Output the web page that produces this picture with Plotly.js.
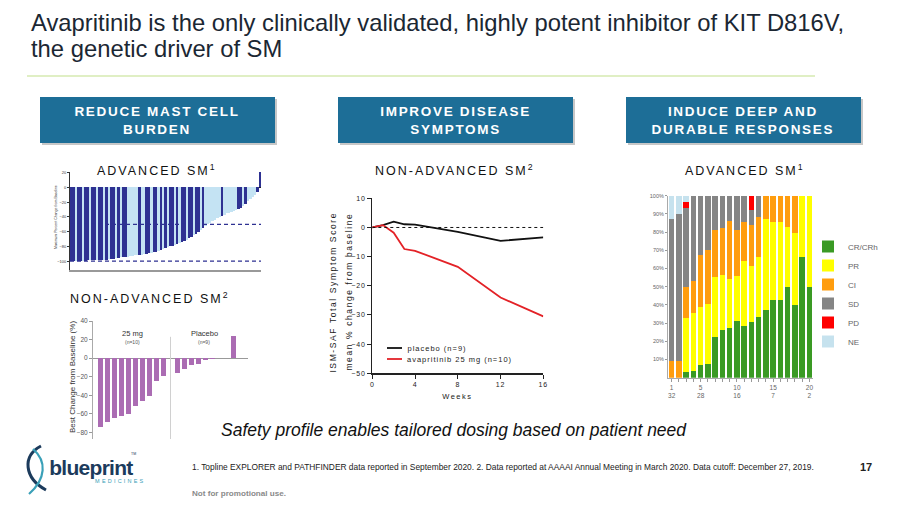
<!DOCTYPE html>
<html><head><meta charset="utf-8">
<script src="https://cdn.plot.ly/plotly-3.0.1.min.js"></script>
<style>
body{margin:0;background:#fff}
#chart{width:900px;height:506px}
.x3tick text,.y3tick text{letter-spacing:0.8px}
</style>
</head><body>
<div id="chart"></div>
<script>
// ---------------- DATA ----------------
// Advanced SM waterfall (max % change from baseline, sorted)
const advChange = [
 -100,-100,-100,-100,-100,-100,-100,-99,-99,-99,
 -99,-99,-98,-98,-98,-98,-97,-97,-97,-96,
 -96,-95,-95,-94,-94,-93,-93,-92,-92,-91,
 -91,-90,-90,-89,-89,-88,-87,-86,-85,-83,
 -82,-81,-80,-79,-78,-77,-76,-74,-73,-71,
 -69,-67,-65,-63,-61,-58,-55,-52,-50,-48,
 -46,-44,-42,-40,-39,-37,-35,-34,-33,-32,
 -30,-29,-28,-25,-22,-19,-16,-13,-10,-6,
 22];
// 1 = dark cohort, 0 = light cohort
const advCohort = [
 1,1,0,1,1,0,1,1,0,1,
 1,0,1,1,0,1,0,1,1,0,
 1,0,1,1,0,0,0,0,0,1,
 0,0,1,1,0,1,1,0,1,0,
 1,0,1,1,0,1,0,1,1,0,
 1,1,0,1,1,0,1,0,0,0,
 0,0,0,0,1,0,0,0,0,0,
 0,1,1,0,1,0,0,0,0,1,
 1];
const advRefLines = [-50, -100];

// Non-advanced SM waterfall (best % change from baseline)
const groupLabels = ['25 mg', 'Placebo'];
const groupN = ['(n=10)', '(n=9)'];
const best25mg = [-74,-69,-64,-62,-60,-51,-46,-41,-25,-19];
const bestPlacebo = [-16,-12,-7,-6,-2,-1,0,0,24];

// ISM-SAF TSS mean % change
const weeks = [0,1,2,3,4,8,12,16];
const placeboTSS = [0,0.8,2.0,1.1,1.0,-1.5,-4.6,-3.4];
const avapTSS = [0,0.8,-1.8,-7.4,-8.0,-13.5,-24.0,-30.5];
const lineNames = ['placebo (n=9)', 'avapritinib 25 mg (n=10)'];

// Response over time (% of patients)
const cycles = [1,2,3,4,5,6,7,8,9,10,11,12,13,14,15,16,17,18,19,20];
const cycleTicks = [1,5,10,15,20];
const patientsAtRisk = ['32','28','16','7','2'];
const pctTicks = [10,20,30,40,50,60,70,80,90,100];
const respCR = [0,0,3.3,3.7,7,7.3,22.2,26,27.1,31.1,28.4,30.6,33.2,37.4,42.7,42.7,49.6,39.9,66.5,49.6];
const respPR = [0,0,29.7,32,32,33.4,32.9,30.4,27.1,24.8,35.7,30.8,33.3,50,42.6,42.6,33.4,39.4,33.5,50.4];
const respCI = [9.2,9.2,16.6,17.6,28.4,29.4,26,26,31.9,25.2,21.2,22.5,22,12.6,14.7,14.7,17,20.7,0,0];
const respSD = [77.8,80.5,43.4,46.7,32.6,29.9,18.9,17.6,13.9,18.9,14.7,8.1,11.5,0,0,0,0,0,0,0];
const respPD = [0,0,3.3,0,0,0,0,0,0,0,0,8,0,0,0,0,0,0,0,0];
const respNE = [13,10.3,3.7,0,0,0,0,0,0,0,0,0,0,0,0,0,0,0,0,0];
const respNames = ['CR/CRh','PR','CI','SD','PD','NE'];

// ---------------- HELPERS ----------------
const W = 900, H = 506;
const X = p => p / W;
const Y = p => 1 - p / H;
const F = 'Liberation Sans, Arial, sans-serif';
const dom = (a, b) => [X(a), X(b)];
const domY = (top, bottom) => [Y(bottom), Y(top)];

// ---------------- TRACES ----------------
const traces = [];
traces.push({
  type: 'bar', x: advChange.map((_, i) => i), y: advChange,
  marker: {color: advCohort.map(c => c ? '#2e3192' : '#c4e3f3'), line: {width: 0}},
  width: 1, xaxis: 'x', yaxis: 'y', showlegend: false
});
const purpleX = best25mg.map((_, i) => i + 1).concat(bestPlacebo.map((_, i) => i + 12));
traces.push({
  type: 'bar', x: purpleX, y: best25mg.concat(bestPlacebo),
  marker: {color: '#ab6cb3', line: {width: 0}}, width: 0.72,
  xaxis: 'x2', yaxis: 'y2', showlegend: false
});
traces.push({
  type: 'scatter', mode: 'lines', x: weeks, y: placeboTSS, name: lineNames[0],
  line: {color: '#111', width: 1.8}, xaxis: 'x3', yaxis: 'y3', showlegend: false
});
traces.push({
  type: 'scatter', mode: 'lines', x: weeks, y: avapTSS, name: lineNames[1],
  line: {color: '#e32227', width: 1.8}, xaxis: 'x3', yaxis: 'y3', showlegend: false
});
const respSeries = [respCR, respPR, respCI, respSD, respPD, respNE];
const respColors = ['#3a9a24', '#ffff00', '#ff9d0e', '#858585', '#ff0000', '#c6e2ee'];
respSeries.forEach((s, k) => traces.push({
  type: 'bar', x: cycles, y: s, name: respNames[k], width: 0.78,
  marker: {color: respColors[k], line: {width: 0}},
  xaxis: 'x4', yaxis: 'y4', legend: 'legend2', showlegend: true
}));

// ---------------- ANNOTATIONS ----------------
const ann = [];
const spaced = {};
function A(text, x, y, o = {}) {
  const ls = o.ls; delete o.ls;
  const a = Object.assign({text, x: X(x), y: Y(y), xref: 'paper', yref: 'paper', showarrow: false,
    xanchor: 'center', yanchor: 'middle', font: {family: F, size: 10, color: '#222'}}, o);
  if (ls) {
    spaced[ann.length] = ls;
    if (a.xanchor === 'left') {
      const n = text.replace(/<[^>]+>/g, '').length;
      a.x = X(x + ls * n / 2);
    }
  }
  ann.push(a);
}
const titleFont = {family: F, size: 23.8, color: '#1b2733'};
A('Avapritinib is the only clinically validated, highly potent inhibitor of KIT D816V,', 29, 23, {xanchor: 'left', font: titleFont});
A('the genetic driver of SM', 29, 48, {xanchor: 'left', font: titleFont});
const hdrFont = {family: F, size: 13.5, color: '#fff'};
A('<b>REDUCE MAST CELL</b><br><b>BURDEN</b>', 157, 121, {font: hdrFont, ls: 1.7});
A('<b>IMPROVE DISEASE</b><br><b>SYMPTOMS</b>', 455, 121, {font: hdrFont, ls: 1.7});
A('<b>INDUCE DEEP AND</b><br><b>DURABLE RESPONSES</b>', 743, 121, {font: hdrFont, ls: 1.7});
const subFont = {family: F, size: 12.5, color: '#111'};
A('ADVANCED SM<sup>1</sup>', 157, 170, {font: subFont, ls: 2});
A('NON-ADVANCED SM<sup>2</sup>', 455, 170, {font: subFont, ls: 2});
A('ADVANCED SM<sup>1</sup>', 745, 170, {font: subFont, ls: 2});
A('NON-ADVANCED SM<sup>2</sup>', 150, 298, {font: subFont, ls: 2});
A('ISM-SAF Total Symptom Score', 333, 292, {textangle: -90, font: {family: F, size: 8.5, color: '#222'}, ls: 1.6});
A('mean % change from baseline', 349, 292, {textangle: -90, font: {family: F, size: 8.5, color: '#222'}, ls: 1.6});
A('Weeks', 458, 396, {font: {family: F, size: 7.5, color: '#222'}, ls: 1.5});
A(groupLabels[0], 132, 333, {font: {family: F, size: 7.5, color: '#333'}});
A(groupN[0], 132, 342, {font: {family: F, size: 5, color: '#555'}});
A(groupLabels[1], 204, 333, {font: {family: F, size: 7.5, color: '#333'}});
A(groupN[1], 204, 342, {font: {family: F, size: 5, color: '#555'}});
A('Best Change from Baseline (%)', 72, 377, {textangle: -90, font: {family: F, size: 8, color: '#333'}});
A('Maximum Percent Change from Baseline', 56, 217, {textangle: -90, font: {family: F, size: 3.5, color: '#333'}});
A(lineNames[0], 405, 348, {xanchor: 'left', font: {family: F, size: 7.5, color: '#222'}, ls: 1});
A(lineNames[1], 405, 359, {xanchor: 'left', font: {family: F, size: 7.5, color: '#222'}, ls: 1});
A('<i>Safety profile enables tailored dosing based on patient need</i>', 454, 430, {font: {family: F, size: 17.5, color: '#111'}});
A('1. Topline EXPLORER and PATHFINDER data reported in September 2020. 2. Data reported at AAAAI Annual Meeting in March 2020. Data cutoff: December 27, 2019.', 190, 467, {xanchor: 'left', font: {family: F, size: 8.4, color: '#222'}});
A('<b>17</b>', 866, 467, {font: {family: F, size: 11, color: '#222'}});
A('<b>Not for promotional use.</b>', 190, 493, {xanchor: 'left', font: {family: F, size: 8.1, color: '#8a8a8a'}});
A('<b>blueprint</b>', 47, 467, {xanchor: 'left', font: {family: F, size: 21, color: '#1c3b5c'}, ls: -0.7});
A('MEDICINES', 93, 481, {xanchor: 'left', font: {family: F, size: 5.5, color: '#3aa0b8'}, ls: 2.2});
A('TM', 133, 454, {font: {family: F, size: 3.5, color: '#1c3b5c'}});

// ---------------- SHAPES ----------------
const shapes = [];
function rectPx(x0, y0, x1, y1, fill) {
  shapes.push({type: 'rect', xref: 'paper', yref: 'paper', x0: X(x0), x1: X(x1), y0: Y(y1), y1: Y(y0),
    fillcolor: fill, line: {width: 0}, layer: 'below'});
}
[[40, 275], [338, 573], [626, 861]].forEach(([a, b]) => {
  rectPx(a + 2, 99, b + 2, 145, 'rgba(0,0,0,0.22)');
  rectPx(a, 97, b, 143, '#1d6e97');
});
shapes.push({type: 'line', xref: 'paper', yref: 'paper', x0: X(27), x1: X(815), y0: Y(76), y1: Y(76),
  line: {color: '#d6eab0', width: 1.5}});
advRefLines.forEach(v => shapes.push({type: 'line', xref: 'x', yref: 'y', x0: -0.5, x1: 80.5, y0: v, y1: v,
  line: {color: '#2e3192', width: 1.2, dash: '4px,3px'}}));
shapes.push({type: 'line', xref: 'x2', yref: 'y2', x0: 11, x1: 11, y0: -87, y1: 23,
  line: {color: '#d0d0d0', width: 1}});
shapes.push({type: 'line', xref: 'x3', yref: 'y3', x0: 0, x1: 16, y0: 0, y1: 0,
  line: {color: '#111', width: 1, dash: 'dot'}});
// legend keys for line chart
shapes.push({type: 'line', xref: 'paper', yref: 'paper', x0: X(387), x1: X(402), y0: Y(348), y1: Y(348), line: {color: '#111', width: 1.8}});
shapes.push({type: 'line', xref: 'paper', yref: 'paper', x0: X(387), x1: X(402), y0: Y(359), y1: Y(359), line: {color: '#e32227', width: 1.8}});
// logo swoosh
const P = (x, y) => X(x) + ',' + Y(y);
shapes.push({type: 'path', xref: 'paper', yref: 'paper',
  path: 'M' + P(41, 446) + ' C' + P(22, 456) + ' ' + P(24, 478) + ' ' + P(46, 490),
  line: {color: '#1c3b5c', width: 3}});
shapes.push({type: 'path', xref: 'paper', yref: 'paper',
  path: 'M' + P(33, 449) + ' C' + P(47, 461) + ' ' + P(46, 479) + ' ' + P(29, 494),
  line: {color: '#3aa0b8', width: 2.2}});

// ---------------- LAYOUT ----------------
const tickF = (s, c) => ({family: F, size: s, color: c});
const layout = {
  width: W, height: H, margin: {l: 0, r: 0, t: 0, b: 0},
  paper_bgcolor: '#fff', plot_bgcolor: 'rgba(0,0,0,0)',
  barmode: 'stack', hovermode: false, font: {family: F},
  xaxis: {domain: dom(70, 261), range: [-0.5, 80.5], showticklabels: false, ticks: '', showgrid: false,
    zeroline: false, showline: true, linecolor: '#999', linewidth: 2, anchor: 'y', fixedrange: true},
  yaxis: {domain: domY(172, 270), range: [-112, 21], tickvals: [20, 0, -20, -40, -60, -80, -100],
    tickfont: tickF(4, '#333'), ticks: 'outside', ticklen: 2, tickcolor: '#333', showgrid: false,
    zeroline: true, zerolinecolor: '#222', zerolinewidth: 1, showline: true, linecolor: '#333', linewidth: 1, anchor: 'x'},
  xaxis2: {domain: dom(93, 248), range: [-0.1, 22.1], showticklabels: false, ticks: '', showgrid: false,
    zeroline: false, showline: false, anchor: 'y2'},
  yaxis2: {domain: domY(321, 439), range: [-87, 40], tickvals: [40, 20, 0, -20, -40, -60, -80],
    tickfont: tickF(6.5, '#555'), ticks: 'outside', ticklen: 3, tickcolor: '#999', showgrid: false,
    zeroline: true, zerolinecolor: '#999', zerolinewidth: 1, showline: true, linecolor: '#aaa', anchor: 'x2'},
  xaxis3: {domain: dom(372.3, 543.3), range: [0, 16], tickvals: [0, 4, 8, 12, 16], tickfont: tickF(7, '#222'),
    ticks: 'outside', ticklen: 4, tickcolor: '#222', showgrid: false, zeroline: false, showline: true,
    linecolor: '#222', linewidth: 1.3, anchor: 'y3'},
  yaxis3: {domain: domY(198.3, 373.3), range: [-50, 10], dtick: 10, tickfont: tickF(7, '#222'),
    ticks: 'outside', ticklen: 4, tickcolor: '#222', showgrid: false, zeroline: false, showline: true,
    linecolor: '#222', linewidth: 1.3, anchor: 'x3'},
  xaxis4: {domain: dom(668, 813), range: [0.5, 20.5], tickmode: 'array', tickvals: cycleTicks,
    ticktext: cycleTicks.map((t, i) => t + '<br>' + patientsAtRisk[i]), tickfont: tickF(6.5, '#666'),
    ticks: 'outside', ticklen: 3, tickcolor: '#999',
    minor: {tickmode: 'linear', tick0: 1, dtick: 1, ticks: 'outside', ticklen: 3, tickcolor: '#999'},
    showgrid: false, zeroline: false, showline: true, linecolor: '#aaa', anchor: 'y4'},
  yaxis4: {domain: domY(195.7, 377.7), range: [0, 100], tickmode: 'array', tickvals: pctTicks,
    ticktext: pctTicks.map(v => v + '%'), tickfont: tickF(5.5, '#666'), ticks: 'outside', ticklen: 2, tickcolor: '#999',
    showgrid: false, zeroline: false, showline: true, linecolor: '#aaa', anchor: 'x4'},
  legend2: {x: X(808), y: Y(294), xanchor: 'left', yanchor: 'middle', traceorder: 'normal',
    bgcolor: 'rgba(0,0,0,0)', font: {family: F, size: 8, color: '#666'}},
  annotations: ann, shapes: shapes
};

// letter-spacing for selected annotations
let css = '';
Object.keys(spaced).forEach(i => { css += 'g.annotation[data-index="' + i + '"] text{letter-spacing:' + spaced[i] + 'px}\n'; });
const st = document.createElement('style'); st.textContent = css; document.head.appendChild(st);

Plotly.newPlot('chart', traces, layout, {staticPlot: true, displayModeBar: false});
</script>
</body></html>
